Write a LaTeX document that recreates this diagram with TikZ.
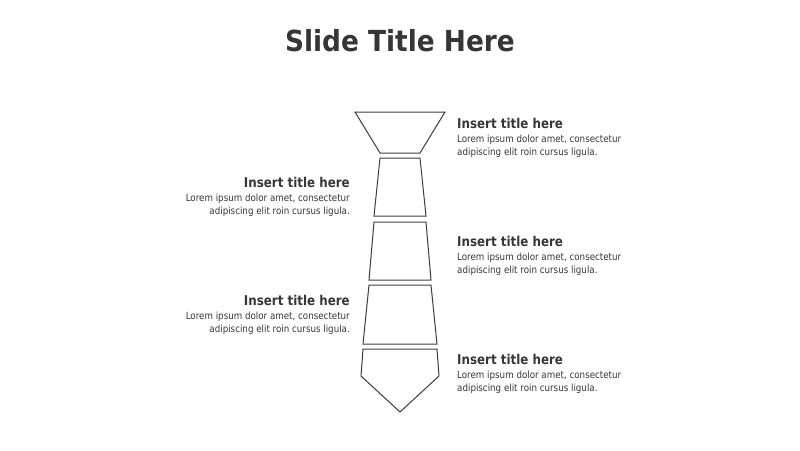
\documentclass[tikz,border=0pt]{standalone}
\usepackage{fontspec}
\setmainfont{DejaVu Sans}[FakeStretch=0.88]
\newfontfamily\titlefont{DejaVu Sans}[FakeStretch=0.91]
\definecolor{txt}{HTML}{363636}
\definecolor{edge}{HTML}{3C3C3C}
\tikzset{
  x=1pt,y=-1pt,
  piece/.style={draw=edge,line width=1pt,line join=miter,fill=white},
  ttl/.style={text=txt,font=\fontsize{13.5}{15}\selectfont\bfseries,inner sep=0pt},
  bod/.style={text=txt,font=\fontsize{9.9}{12}\selectfont,inner sep=0pt},
}
\begin{document}
\begin{tikzpicture}
\useasboundingbox (0,0) rectangle (800,450);
\node[text=txt,font=\titlefont\fontsize{29}{34}\selectfont\bfseries,inner sep=0pt,anchor=base] (title) at (400,51) {Slide Title Here};
% tie
\draw[piece] (355,112) -- (445,112) -- (420,153) -- (380,153) -- cycle;
\draw[piece] (380,158) -- (420,158) -- (426,216) -- (374,216) -- cycle;
\draw[piece] (374,222) -- (426,222) -- (431,280) -- (369,280) -- cycle;
\draw[piece] (369,285) -- (431,285) -- (437,344) -- (363,344) -- cycle;
\draw[piece] (363,349) -- (437,349) -- (439,376) -- (400,412) -- (361,376) -- cycle;
% right blocks
\foreach \i/\yy in {r1/128.5,r2/246.5,r3/364.5}{
  \node[ttl,anchor=base west] (\i t) at (457,\yy) {Insert title here};
  \node[bod,anchor=base west] (\i a) at (457,\yy+14) {Lorem ipsum dolor amet, consectetur};
  \node[bod,anchor=base west] (\i b) at (457,\yy+27) {adipiscing elit roin cursus ligula.};
}
\foreach \i/\yy in {l1/187.5,l2/305.5}{
  \node[ttl,anchor=base east] (\i t) at (350,\yy) {Insert title here};
  \node[bod,anchor=base east] (\i a) at (350,\yy+14) {Lorem ipsum dolor amet, consectetur};
  \node[bod,anchor=base east] (\i b) at (350,\yy+27) {adipiscing elit roin cursus ligula.};
}
\end{tikzpicture}
\end{document}
